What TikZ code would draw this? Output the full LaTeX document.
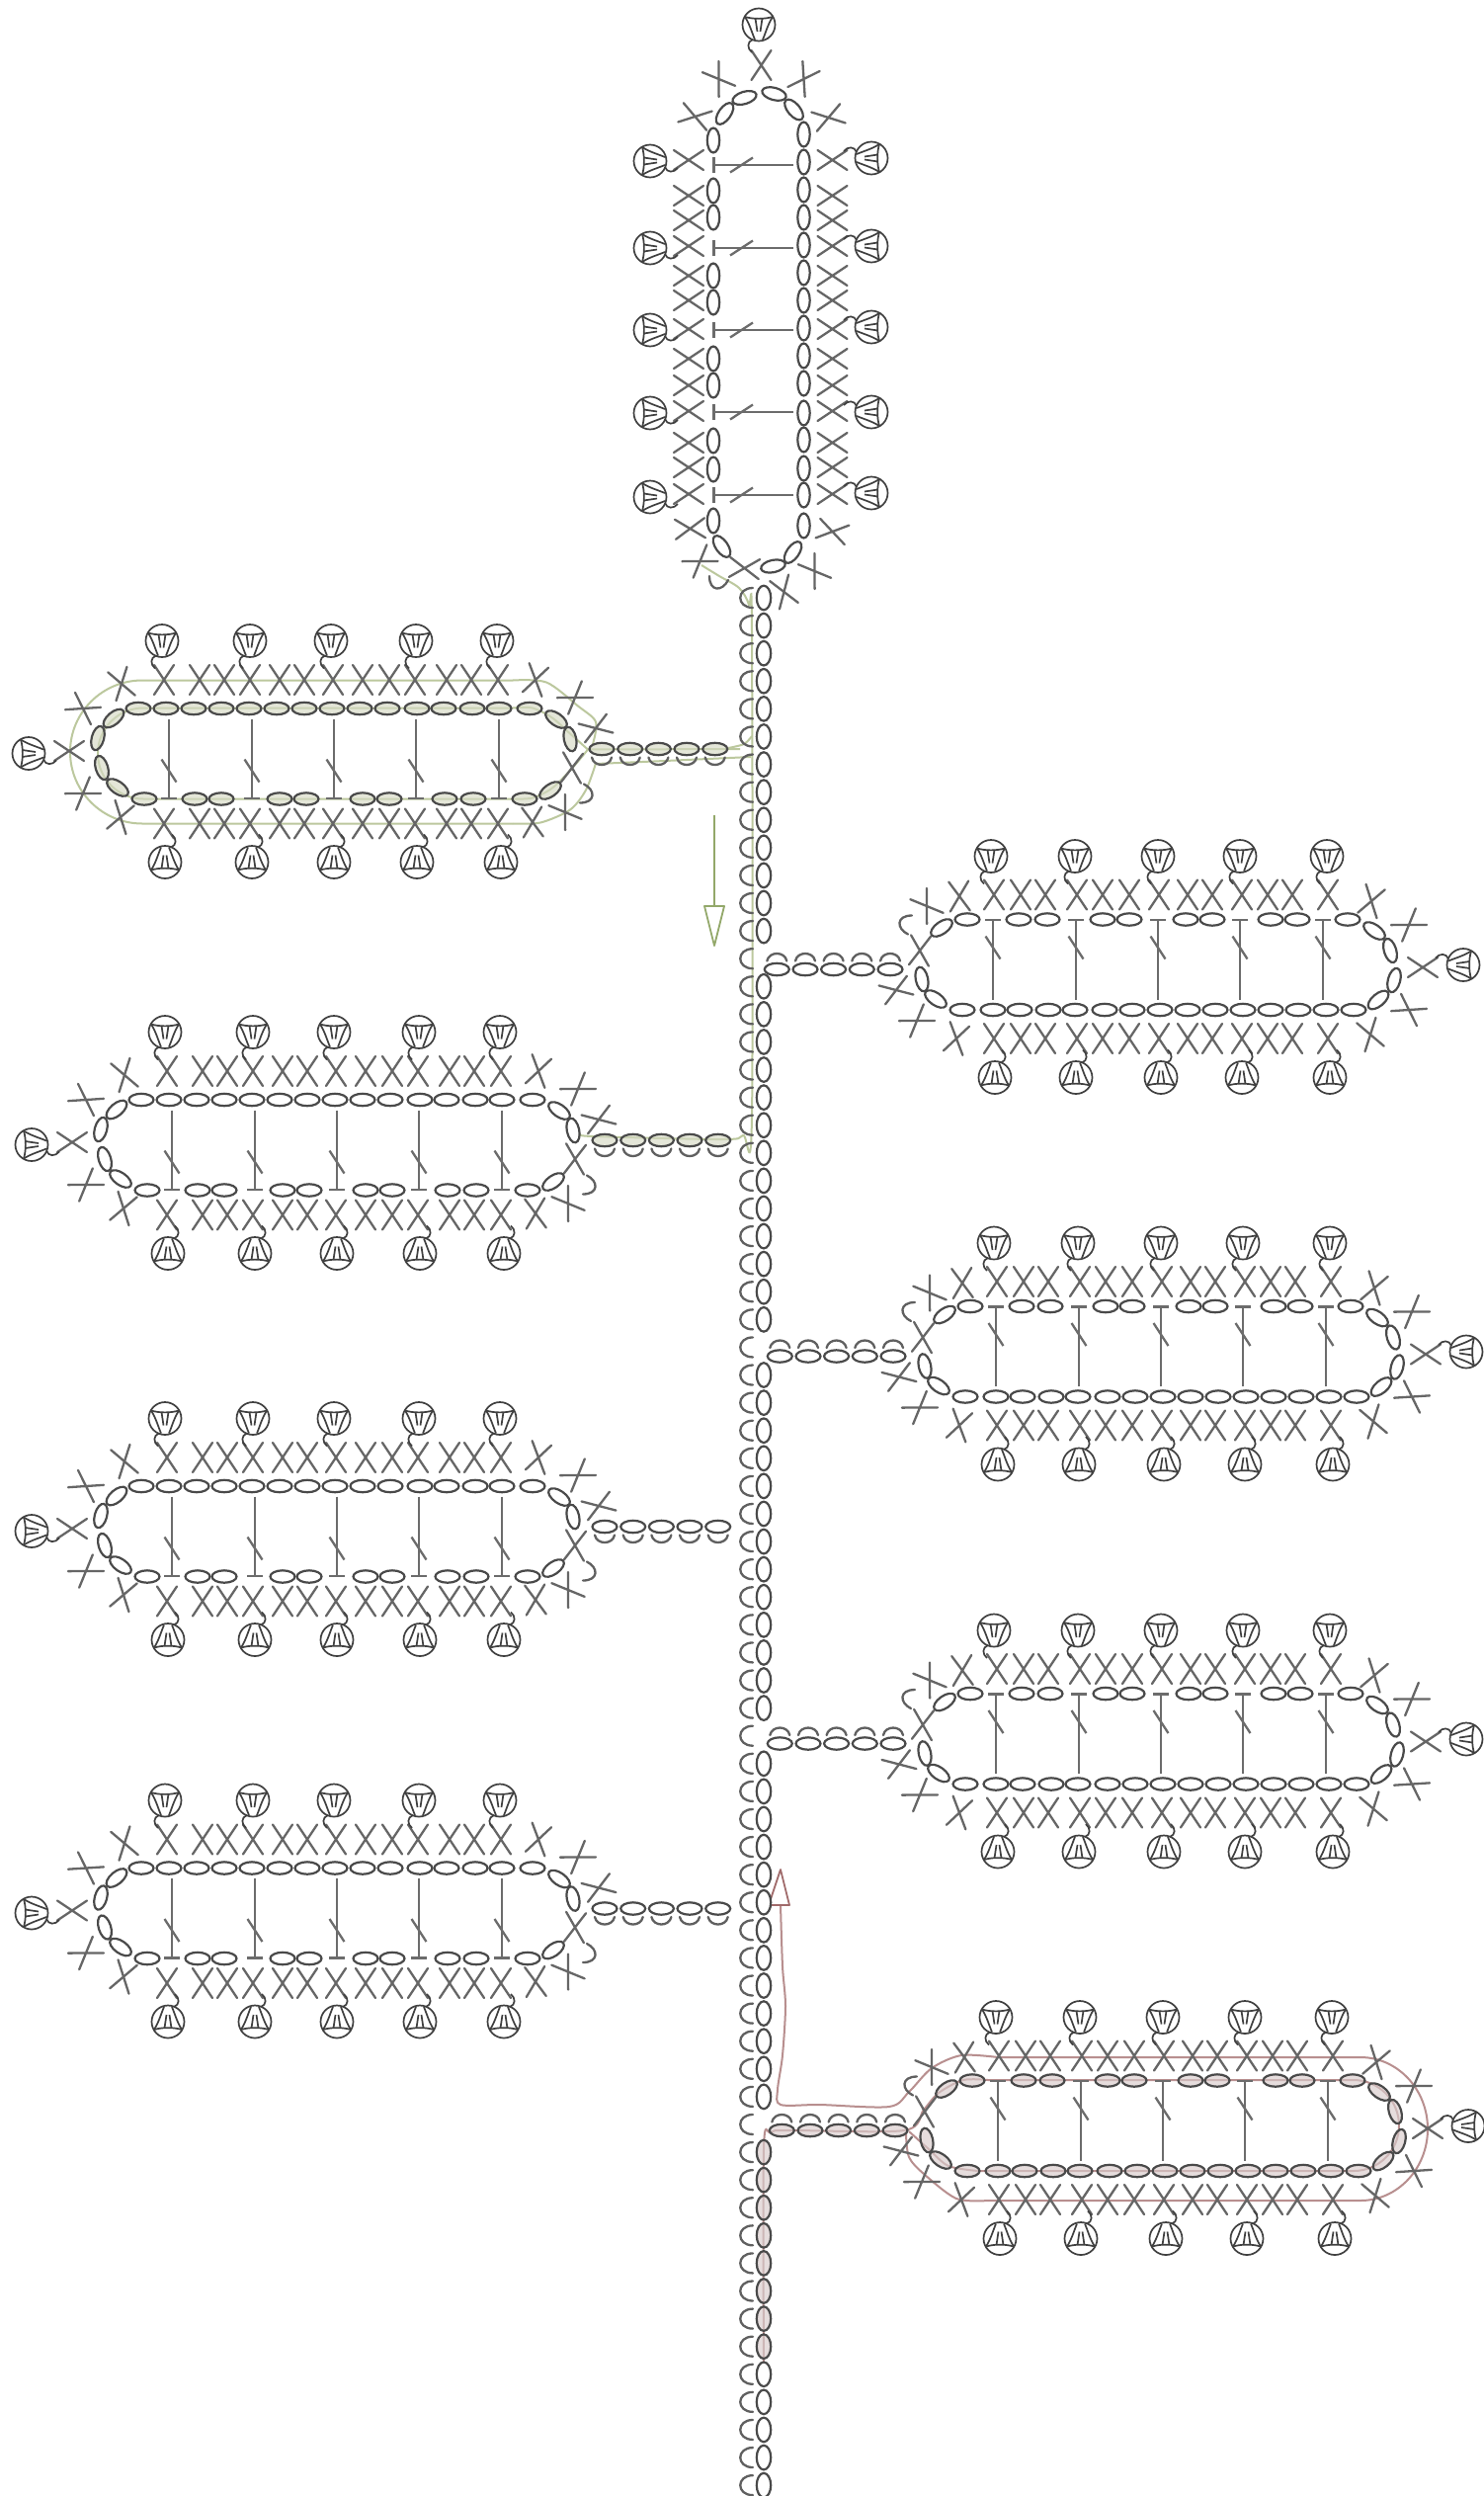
\documentclass[tikz,border=0pt]{standalone}
\definecolor{ovalc}{HTML}{4A4A4A}
\definecolor{crossc}{HTML}{666666}
\definecolor{picotc}{HTML}{404040}
\definecolor{barc}{HTML}{6C6C6C}
\definecolor{greenl}{HTML}{BCC89E}
\definecolor{greenh}{HTML}{93A86A}
\definecolor{redl}{HTML}{B88F8F}
\definecolor{redh}{HTML}{A06A6A}
\definecolor{greenf}{HTML}{D6DAC4}
\definecolor{redf}{HTML}{D9CCCC}
\tikzset{
  ovalst/.style={draw=ovalc,line width=1.1pt},
  crossst/.style={draw=crossc,line width=1.15pt,line cap=round},
  picotst/.style={draw=picotc,line width=.85pt},
  barst/.style={draw=barc,line width=1.15pt},
  cst/.style={draw=ovalc!88!white,line width=1.15pt,line cap=round},
  greenp/.style={draw=greenl,line width=1pt},
  redp/.style={draw=redl,line width=1pt}
}
% oval: x, y, rotation, fill
\newcommand\ovl[4]{\path[ovalst,fill=#4,fill opacity=.65,shift={(#1,#2)},rotate=#3] (0,0) ellipse (12.5 and 6.2);}
% cross: x, y, rotation
\newcommand\crs[3]{\draw[crossst,shift={(#1,#2)},rotate=#3] (-10,-15) -- (10,15) (10,-15) -- (-10,15);}
% picot: x, y, rotation (outward side is +y before rotation)
\newcommand\pct[3]{\begin{scope}[shift={(#1,#2)},rotate=#3]
  \draw[picotst] (0,0) circle (16.5);
  \draw[picotst] (-14,8) .. controls (-6,5.5) and (6,5.5) .. (14,8);
  \draw[picotst] (-14,8) .. controls (-9,0) and (-7,-8) .. (-4,-15);
  \draw[picotst] (14,8) .. controls (9,0) and (7,-8) .. (4,-15);
  \draw[picotst] (-3.5,6.5) -- (-1.5,-7) (3.5,6.5) -- (1.5,-7);
  \draw[picotst] (-6,-15) .. controls (-12,-17) and (-12,-24) .. (-7,-28);
\end{scope}}
% the leaf: tip x, tip y, rotation, oval fill
\newcommand\leafbody[4]{\begin{scope}[shift={(#1,-#2)},rotate=#3]
  % bars
  \foreach \q in {142,226,309,392,476}{
    \draw[barst] (\q,35) -- (\q,-45.5) (\q-8,-45.5) -- (\q+8,-45.5);
    \draw[barst] (\q-7.5,-6) -- (\q+7.5,-29);
  }
  % chain rows
  \foreach \q in {111,139,167,195,223,251,279,307,335,363,393,420,449,476,507}{\ovl{\q}{45.5}{0}{#4}}
  \foreach \q in {117,168,195,254,281,338,365,421,450,502}{\ovl{\q}{-46}{0}{#4}}
  \ovl{86}{35.5}{40}{#4}
  \ovl{70}{15.5}{75}{#4}
  \ovl{74}{-14.5}{107}{#4}
  \ovl{90}{-34.5}{145}{#4}
  \ovl{534}{34.5}{-35}{#4}
  \ovl{548}{14.5}{-78}{#4}
  \ovl{528}{-37.5}{35}{#4}
  % crosses
  \foreach \q in {137,173,198,224,254,279,308,338,365,391,423,448,475}{
    \crs{\q}{74.5}{0}
    \crs{\q}{-71}{0}
  }
  \crs{94}{70.5}{16}
  \crs{55}{45.5}{60}
  \crs{41}{2.5}{90}
  \crs{55}{-40.5}{-56}
  \crs{93}{-64.5}{-16}
  \crs{513}{74.5}{-13}
  \crs{553}{56.5}{-56}
  \crs{574}{25.5}{109}
  \crs{550}{-14.5}{-4}
  \crs{543}{-59.5}{34}
  \crs{510}{-69.5}{3}
  % extra loop at the base
  \draw[cst] (562,-31) .. controls (574,-37) and (574,-50) .. (558,-50);
  % picots
  \pct{0}{0}{90}
  \foreach \q in {135,224,306,392,474}{\pct{\q}{114}{0}}
  \foreach \q in {138,226,309,393,478}{\pct{\q}{-110}{180}}
\end{scope}}
% branch: tip x, tip y, rotation, oval fill
\newcommand\branch[4]{\begin{scope}[shift={(#1,-#2)},rotate=#3]
  \foreach \q in {580,608.7,637.4,666,694.7}{
    \draw[cst] (\q-10,-4) .. controls (\q-8,-14) and (\q+8,-14) .. (\q+10,-4);
    \ovl{\q}{4.5}{0}{#4}
  }
\end{scope}}
\begin{document}
\begin{tikzpicture}[x=0.5pt,y=0.5pt]
\useasboundingbox (0,0) rectangle (1502,-2526);
\fill[white] (0,0) rectangle (1502,-2526);
\begin{scope}
\clip (0,0) rectangle (1502,-2526);

% green working path
\draw[greenp] plot[smooth,tension=.5] coordinates {(710,-572) (728,-583) (748,-595) (758,-612) (761,-640) (761,-1130) (752,-1149) (730,-1153) (600,-1150) (588,-1148)};
\begin{scope}[shift={(29,-762.5)}]
  \draw[greenp] plot[smooth,tension=.5] coordinates {(571,9.5) (574,32) (556,48) (524,72) (490,74)};
  \draw[greenp] (490,74) -- (115,74) arc (90:270:73 and 72.5) -- (490,-71);
  \draw[greenp] plot[smooth,tension=.5] coordinates {(490,-71) (518,-70) (548,-57) (564,-37) (574,-10)};
  \draw[greenp] (720,4.5) -- (566,4);
  \draw[greenp] plot[smooth,tension=.5] coordinates {(566,4) (548,20) (530,36) (510,46) (490,46)};
  \draw[greenp] (490,46) -- (116,46) arc (90:270:46) -- (490,-46);
  \draw[greenp] plot[smooth,tension=.5] coordinates {(490,-46) (510,-45) (530,-35) (550,-15) (566,4)};
\end{scope}
\draw[greenp] plot[smooth,tension=.5] coordinates {(737,-757) (753,-753) (761,-745)};
\draw[greenp] (760,-766) -- (673,-770) -- (603,-773);
% green arrow
\draw[draw=greenh,line width=.7pt] (723,-825) -- (723,-917);
\draw[draw=greenh,line width=.9pt,line join=round] (713,-917) -- (733,-917) -- (723,-957) -- cycle;

% red working path
\draw[redp] plot[smooth,tension=.5] coordinates {(790,-1928) (792,-1990) (795,-2030) (792,-2080) (787,-2115) (790,-2130) (830,-2130) (900,-2132) (920,-2117) (943,-2093) (973,-2080) (1010,-2082)};
\draw[redp] (1010,-2082) -- (1377,-2082) arc (90:-90:68 and 72.5) -- (1000,-2227);
\draw[redp] plot[smooth,tension=.5] coordinates {(1000,-2227) (968,-2225) (935,-2200) (920,-2183) (917,-2160)};
\draw[redp] plot[smooth,tension=.5] coordinates {(773,-2400) (773,-2175) (780,-2158) (800,-2156) (915,-2156) (935,-2135) (950,-2118) (975,-2105) (1000,-2105)};
\draw[redp] (1000,-2105) -- (1370,-2105) arc (90:-90:46) -- (990,-2197);
\draw[redp] plot[smooth,tension=.5] coordinates {(990,-2197) (960,-2192) (940,-2175) (920,-2157)};
% red arrow
\draw[draw=redh,line width=.9pt,line join=round] (778,-1928) -- (799,-1928) -- (790,-1892) -- cycle;

% stem
\foreach \i in {0,...,68}{
  \pgfmathsetmacro{\yy}{-(605+28.09*\i)}
  \draw[cst] (762,\yy-10) .. controls (745,\yy-10) and (745,\yy+10) .. (762,\yy+10);
}
\foreach \i in {0,...,68}{
  \pgfmathsetmacro{\yy}{-(605+28.09*\i)}
  \ifnum\i=13\relax\else\ifnum\i=27\relax\else\ifnum\i=41\relax\else\ifnum\i=55\relax\else
    \ifnum\i>55\relax\ifnum\i<64\relax
      \path[ovalst,fill=redf,fill opacity=.65] (773,\yy) ellipse (7.2 and 12.3);
    \else
      \path[ovalst,fill=white] (773,\yy) ellipse (7.2 and 12.3);
    \fi\else
      \path[ovalst,fill=white] (773,\yy) ellipse (7.2 and 12.3);
    \fi
  \fi\fi\fi\fi
}

% leaves
\leafbody{768}{25}{-90}{white}
\leafbody{29}{762.5}{0}{greenf}
\branch{29}{762.5}{0}{greenf}
\leafbody{32}{1158.5}{0}{white}
\branch{32}{1158.5}{0}{greenf}
\leafbody{32}{1549.5}{0}{white}
\branch{32}{1549.5}{0}{white}
\leafbody{32}{1936}{0}{white}
\branch{32}{1936}{0}{white}
\leafbody{1481}{976.5}{180}{white}
\branch{1481}{976.5}{180}{white}
\leafbody{1484}{1368}{180}{white}
\branch{1484}{1368}{180}{white}
\leafbody{1484}{1760}{180}{white}
\branch{1484}{1760}{180}{white}
\leafbody{1486}{2151.5}{180}{redf}
\branch{1486}{2151.5}{180}{redf}
\end{scope}
\end{tikzpicture}
\end{document}
